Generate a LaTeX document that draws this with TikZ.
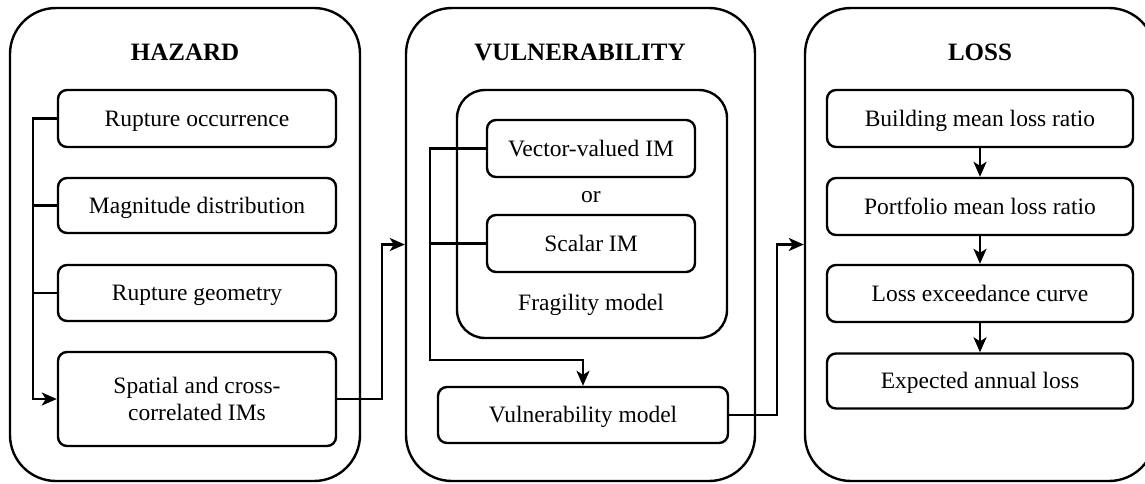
\documentclass[tikz,border=0pt]{standalone}
\usepackage{fontspec}
\setmainfont{Liberation Serif}
\usetikzlibrary{arrows.meta}

\begin{document}
\begin{tikzpicture}[x=1pt,y=-1pt,
  panel/.style={draw, line width=2.4pt, rounded corners=46pt, inner sep=0pt,
    minimum width=350pt, minimum height=473pt},
  group/.style={draw, line width=2.4pt, rounded corners=28pt, inner sep=0pt},
  boxline/.style={draw, line width=2.4pt, rounded corners=9pt, inner sep=0pt,
    align=center, font=\fontsize{23.5}{27}\selectfont},
  stepbox/.style={boxline, text height=15.5pt, text depth=0pt},
  label/.style={inner sep=0pt, font=\fontsize{23.5}{27}\selectfont},
  heading/.style={inner sep=0pt, font=\fontsize{25}{30}\selectfont\bfseries},
  link/.style={line width=2.4pt},
  arr/.style={line width=2.4pt, -{Stealth[length=15pt,width=13pt,inset=4pt]}}]

\useasboundingbox (0,0) rectangle (1145,483);

% ---------------- Hazard ----------------
\node[panel] (haz) at (185,244.5) {};
\node[heading] (hazt) at (185,52) {HAZARD};
\node[stepbox, minimum width=278pt, minimum height=57pt] (h1) at (197,118.5) {Rupture occurrence};
\node[stepbox, minimum width=278pt, minimum height=55pt] (h2) at (197,205.5) {Magnitude distribution};
\node[stepbox, minimum width=278pt, minimum height=56pt] (h3) at (197,293) {Rupture geometry};
\node[boxline, minimum width=278pt, minimum height=94pt] (h4) at (197,399) {Spatial and cross-\\correlated IMs};

\coordinate (hbus) at (33,0);
\draw[arr] (h1.west) -- (h1.west -| hbus) |- (h4.west);
\draw[link] (h2.west) -- (h2.west -| hbus);
\draw[link] (h3.west) -- (h3.west -| hbus);

% ---------------- Vulnerability ----------------
\node[panel, minimum width=349pt] (vul) at (580.5,244.5) {};
\node[heading] (vult) at (580,52) {VULNERABILITY};
\node[group, minimum width=270pt, minimum height=248pt] (frag) at (592,214) {};
\node[stepbox, minimum width=208pt, minimum height=57pt] (v1) at (591,148.5) {Vector-valued IM};
\node[label] (vor) at (591,197) {or};
\node[stepbox, minimum width=208pt, minimum height=57pt] (v2) at (591,243.5) {Scalar IM};
\node[label] (fragt) at (591,305) {Fragility model};
\node[stepbox, minimum width=290pt, minimum height=56pt] (vm) at (583,415) {Vulnerability model};

\coordinate (vturn) at (430,360);
\draw[arr] (v1.west) -| (vturn) -| (vm.north);
\draw[link] (v2.west) -- (v2.west -| vturn);

% hazard -> vulnerability
\coordinate (hx) at (382,0);
\draw[arr] (h4.east) -- (h4.east -| hx) |- (vul.west);

% ---------------- Loss ----------------
\node[panel] (loss) at (980,244.5) {};
\node[heading] (losst) at (980,52) {LOSS};
\node[stepbox, minimum width=306pt, minimum height=57pt] (l1) at (980,118.5) {Building mean loss ratio};
\node[stepbox, minimum width=306pt, minimum height=57pt] (l2) at (980,206.5) {Portfolio mean loss ratio};
\node[stepbox, minimum width=306pt, minimum height=57pt] (l3) at (980,293.5) {Loss exceedance curve};
\node[stepbox, minimum width=306pt, minimum height=55pt] (l4) at (980,381) {Expected annual loss};

\draw[arr] (l1.south) -- (l2.north);
\draw[arr] (l2.south) -- (l3.north);
\draw[arr] (l3.south) -- (l4.north);

% vulnerability -> loss
\coordinate (vx) at (777,0);
\draw[arr] (vm.east) -- (vm.east -| vx) |- (loss.west);

\end{tikzpicture}
\end{document}
